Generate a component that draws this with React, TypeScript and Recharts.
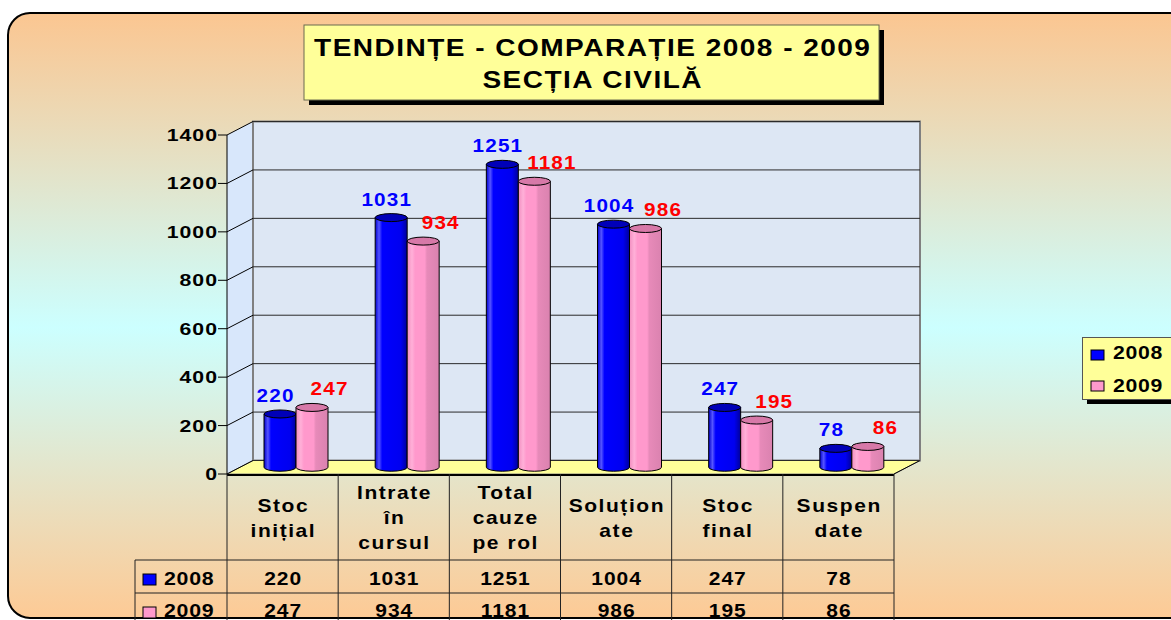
import { BarChart, Bar, XAxis, YAxis, CartesianGrid, Legend, LabelList } from 'recharts';

// Excel-style 3D column chart with a data table under the axis.
// The "3D" box is faked: front face = Recharts plot area, back wall shifted by DX/DY.
const categories = ['Stoc\ninițial', 'Intrate\nîn\ncursul', 'Total\ncauze\npe rol', 'Soluțion\nate', 'Stoc\nfinal', 'Suspen\ndate'];
const values2008 = [220, 1031, 1251, 1004, 247, 78];
const values2009 = [247, 934, 1181, 986, 195, 86];
const yTicks = [0, 200, 400, 600, 800, 1000, 1200, 1400];
const seriesNames = ['2008', '2009'];
const titleLines = ['TENDINȚE - COMPARAȚIE 2008 - 2009', 'SECȚIA CIVILĂ'];

const data = categories.map((name, i) => ({ name, y2008: values2008[i], y2009: values2009[i] }));

const W = 1171, H = 620;
const PL = 227, PR = 894, PT = 135, PB = 474; // front face of the box
const DX = 26, DY = 13.5;                      // depth of the box
const Y_AXIS_W = 60;
const FONT = '"Liberation Sans", Arial, Helvetica, sans-serif';
const ROW1 = 585, ROW2 = 617, HEAD_MID = 524;

const SERIES = [
  { key: 'y2008', fill: '#0000FF', body: 'cylBlue', top: '#0000B8', label: '#0000FF', ldx: -5 },
  { key: 'y2009', fill: '#FF99CC', body: 'cylPink', top: '#D779A8', label: '#FF0000', ldx: 17 },
];

// Excel text in the source is wide and heavy: bold font stretched horizontally
const T = ({ x, y, size, sx = 1.2, ls = 0, anchor = 'start', fill = '#000', children }: any) => (
  <text transform={`translate(${x} ${y}) scale(${sx} 1)`} textAnchor={anchor}
    dx={anchor === 'middle' ? ls / 2 : anchor === 'end' ? ls : 0}
    style={{ fontFamily: FONT, fontWeight: 700, fontSize: size, letterSpacing: ls, fill }}>{children}</text>
);

function Backdrop() {
  const colW = (PR - PL) / categories.length;
  const cols = categories.map((_, i) => PL + i * colW).concat(PR);
  return (
    <svg width={W} height={H} style={{ position: 'absolute', left: 0, top: 0 }}>
      <defs>
        <linearGradient id="bgGrad" x1="0" y1="0" x2="0" y2="1">
          <stop offset="0" stopColor="#FBC691" />
          <stop offset="0.52" stopColor="#CCFFFF" />
          <stop offset="1" stopColor="#FDCA95" />
        </linearGradient>
        <linearGradient id="cylBlue" x1="0" y1="0" x2="1" y2="0">
          <stop offset="0" stopColor="#0000D0" />
          <stop offset="0.12" stopColor="#5555FF" />
          <stop offset="0.22" stopColor="#0000FF" />
          <stop offset="0.8" stopColor="#0000F0" />
          <stop offset="1" stopColor="#00009A" />
        </linearGradient>
        <linearGradient id="cylPink" x1="0" y1="0" x2="1" y2="0">
          <stop offset="0" stopColor="#F28EC0" />
          <stop offset="0.15" stopColor="#FFB0D8" />
          <stop offset="0.25" stopColor="#FF99CC" />
          <stop offset="0.55" stopColor="#FF99CC" />
          <stop offset="0.62" stopColor="#E78AB9" />
          <stop offset="1" stopColor="#DA82AF" />
        </linearGradient>
      </defs>
      <rect x={0} y={0} width={W} height={H} fill="#fff" />
      <rect x={8} y={13} width={1220} height={605} rx={22} fill="url(#bgGrad)" stroke="#000" strokeWidth={2} />

      {/* title box */}
      <rect x={309} y={30} width={575} height={75} fill="#000" />
      <rect x={304} y={25} width={575} height={75} fill="#FFFF99" stroke="#6b6b50" />
      {titleLines.map((t, i) => (
        <T key={i} x={592} y={56 + i * 32} size={23} sx={1.22} ls={1.2} anchor="middle">{t}</T>
      ))}

      {/* walls + floor */}
      <polygon points={`${PL},${PT} ${PL + DX},${PT - DY} ${PL + DX},${PB - DY} ${PL},${PB}`} fill="#D8E7FB" />
      <rect x={PL + DX} y={PT - DY} width={PR - PL} height={PB - PT} fill="#DDE7F4" stroke="#808080" strokeWidth={2} />
      <polygon points={`${PL},${PB} ${PR},${PB} ${PR + DX},${PB - DY} ${PL + DX},${PB - DY}`} fill="#FFFF99" stroke="#808080" />
      <line x1={PR} y1={PB} x2={PR + DX} y2={PB - DY} stroke="#000" />

      {/* data table grid */}
      <line x1={PL} y1={PB + 1} x2={PR} y2={PB + 1} stroke="#000" strokeWidth={2} />
      <line x1={135} y1={560} x2={PR} y2={560} stroke="#222" />
      <line x1={135} y1={593} x2={PR} y2={593} stroke="#222" />
      <line x1={135} y1={560} x2={135} y2={H} stroke="#222" />
      {cols.map((x, i) => <line key={i} x1={x} y1={PB} x2={x} y2={H} stroke="#222" />)}
      {seriesNames.map((s, i) => (
        <g key={s}>
          <rect x={143} y={574 + i * 33} width={13} height={11} fill={SERIES[i].fill} stroke="#000" />
          <T x={164} y={i ? ROW2 : ROW1} size={17.5} sx={1.22} ls={0.6}>{s}</T>
        </g>
      ))}
    </svg>
  );
}

const Cylinder = (props: any) => {
  const { x, y, width, height, s } = props;
  if (!height || height <= 0) return null;
  const c = SERIES[s];
  const x0 = x + DX / 2, x1 = x0 + width, top = y - DY / 2, bot = top + height;
  const rx = width / 2, ry = 4;
  return (
    <g>
      <path d={`M${x0},${top} L${x0},${bot} A${rx},${ry} 0 0 0 ${x1},${bot} L${x1},${top} Z`}
        fill={`url(#${c.body})`} stroke="#000" strokeWidth={1} />
      <ellipse cx={x0 + rx} cy={top} rx={rx} ry={ry} fill={c.top} stroke="#000" strokeWidth={1} />
    </g>
  );
};

const barLabel = (s: number) => (p: any) => {
  const vb = p.viewBox && p.viewBox.width != null ? p.viewBox : p;
  const cx = vb.x + vb.width / 2 + DX / 2 + SERIES[s].ldx;
  return (
    <T x={cx} y={vb.y - DY / 2 - 12} size={18} sx={1.15} ls={1} anchor="middle" fill={SERIES[s].label}>{p.value}</T>
  );
};

// horizontal grid: lines on the back wall + diagonals across the side wall
const gridLine = (p: any) => {
  const { x1, x2, y1, index } = p;
  return (
    <g key={`g${index}`}>
      <line x1={x1 + DX} y1={y1 - DY} x2={x2 + DX} y2={y1 - DY} stroke="#2a2a2a" strokeWidth={1} />
      <line x1={x1} y1={y1} x2={x1 + DX} y2={y1 - DY} stroke="#000" strokeWidth={1} />
    </g>
  );
};

const YTick = (p: any) => (
  <T x={p.x + 1} y={p.y + 6} size={17} sx={1.25} ls={0.8} anchor="end">{p.payload.value}</T>
);

const TableTick = (p: any) => {
  const i = p.index ?? p.payload?.index ?? 0;
  const lines = categories[i].split('\n');
  const first = HEAD_MID - (lines.length - 1) * 12.5;
  return (
    <g>
      {lines.map((l, k) => (
        <T key={k} x={p.x} y={first + k * 25} size={17.5} sx={1.2} ls={1.3} anchor="middle">{l}</T>
      ))}
      <T x={p.x} y={ROW1} size={17.5} sx={1.2} ls={0.8} anchor="middle">{values2008[i]}</T>
      <T x={p.x} y={ROW2} size={17.5} sx={1.2} ls={0.8} anchor="middle">{values2009[i]}</T>
    </g>
  );
};

const LegendBox = (props: any) => {
  const items = props.payload || [];
  return (
    <svg width={110} height={70} style={{ display: 'block', overflow: 'visible' }}>
      <rect x={5} y={5} width={105} height={62} fill="#000" />
      <rect x={0.5} y={0.5} width={105} height={62} fill="#FFFF99" stroke="#555" />
      {items.map((e: any, i: number) => (
        <g key={e.value}>
          <rect x={9} y={13 + i * 31} width={13} height={10} fill={e.color} stroke="#000" />
          <T x={31} y={22 + i * 33} size={18} sx={1.18} ls={0.6}>{e.value}</T>
        </g>
      ))}
    </svg>
  );
};

export default function App() {
  return (
    <div style={{ position: 'relative', width: W, height: H, overflow: 'hidden' }}>
      <style>{'body{margin:0}'}</style>
      <Backdrop />
      <div style={{ position: 'absolute', left: 0, top: 0 }}>
        <BarChart width={W} height={H} data={data} barGap={0} barSize={32}
          margin={{ top: PT, right: W - PR, left: PL - Y_AXIS_W, bottom: 0 }}>
          <CartesianGrid vertical={false} horizontal={gridLine} />
          <XAxis dataKey="name" height={H - PB} axisLine={false} tickLine={false} interval={0} tick={<TableTick />} />
          <YAxis width={Y_AXIS_W} domain={[0, 1400]} ticks={yTicks} interval={0} tickSize={9}
            axisLine={{ stroke: '#000' }} tickLine={{ stroke: '#000' }} tick={<YTick />} />
          <Legend layout="vertical" align="center" verticalAlign="middle" content={LegendBox}
            wrapperStyle={{ left: 1082, top: 337, width: 110, height: 70 }} />
          {SERIES.map((s, i) => (
            <Bar key={s.key} dataKey={s.key} name={seriesNames[i]} fill={s.fill}
              shape={(p: any) => <Cylinder {...p} s={i} />} isAnimationActive={false}>
              <LabelList dataKey={s.key} content={barLabel(i)} />
            </Bar>
          ))}
        </BarChart>
      </div>
    </div>
  );
}
